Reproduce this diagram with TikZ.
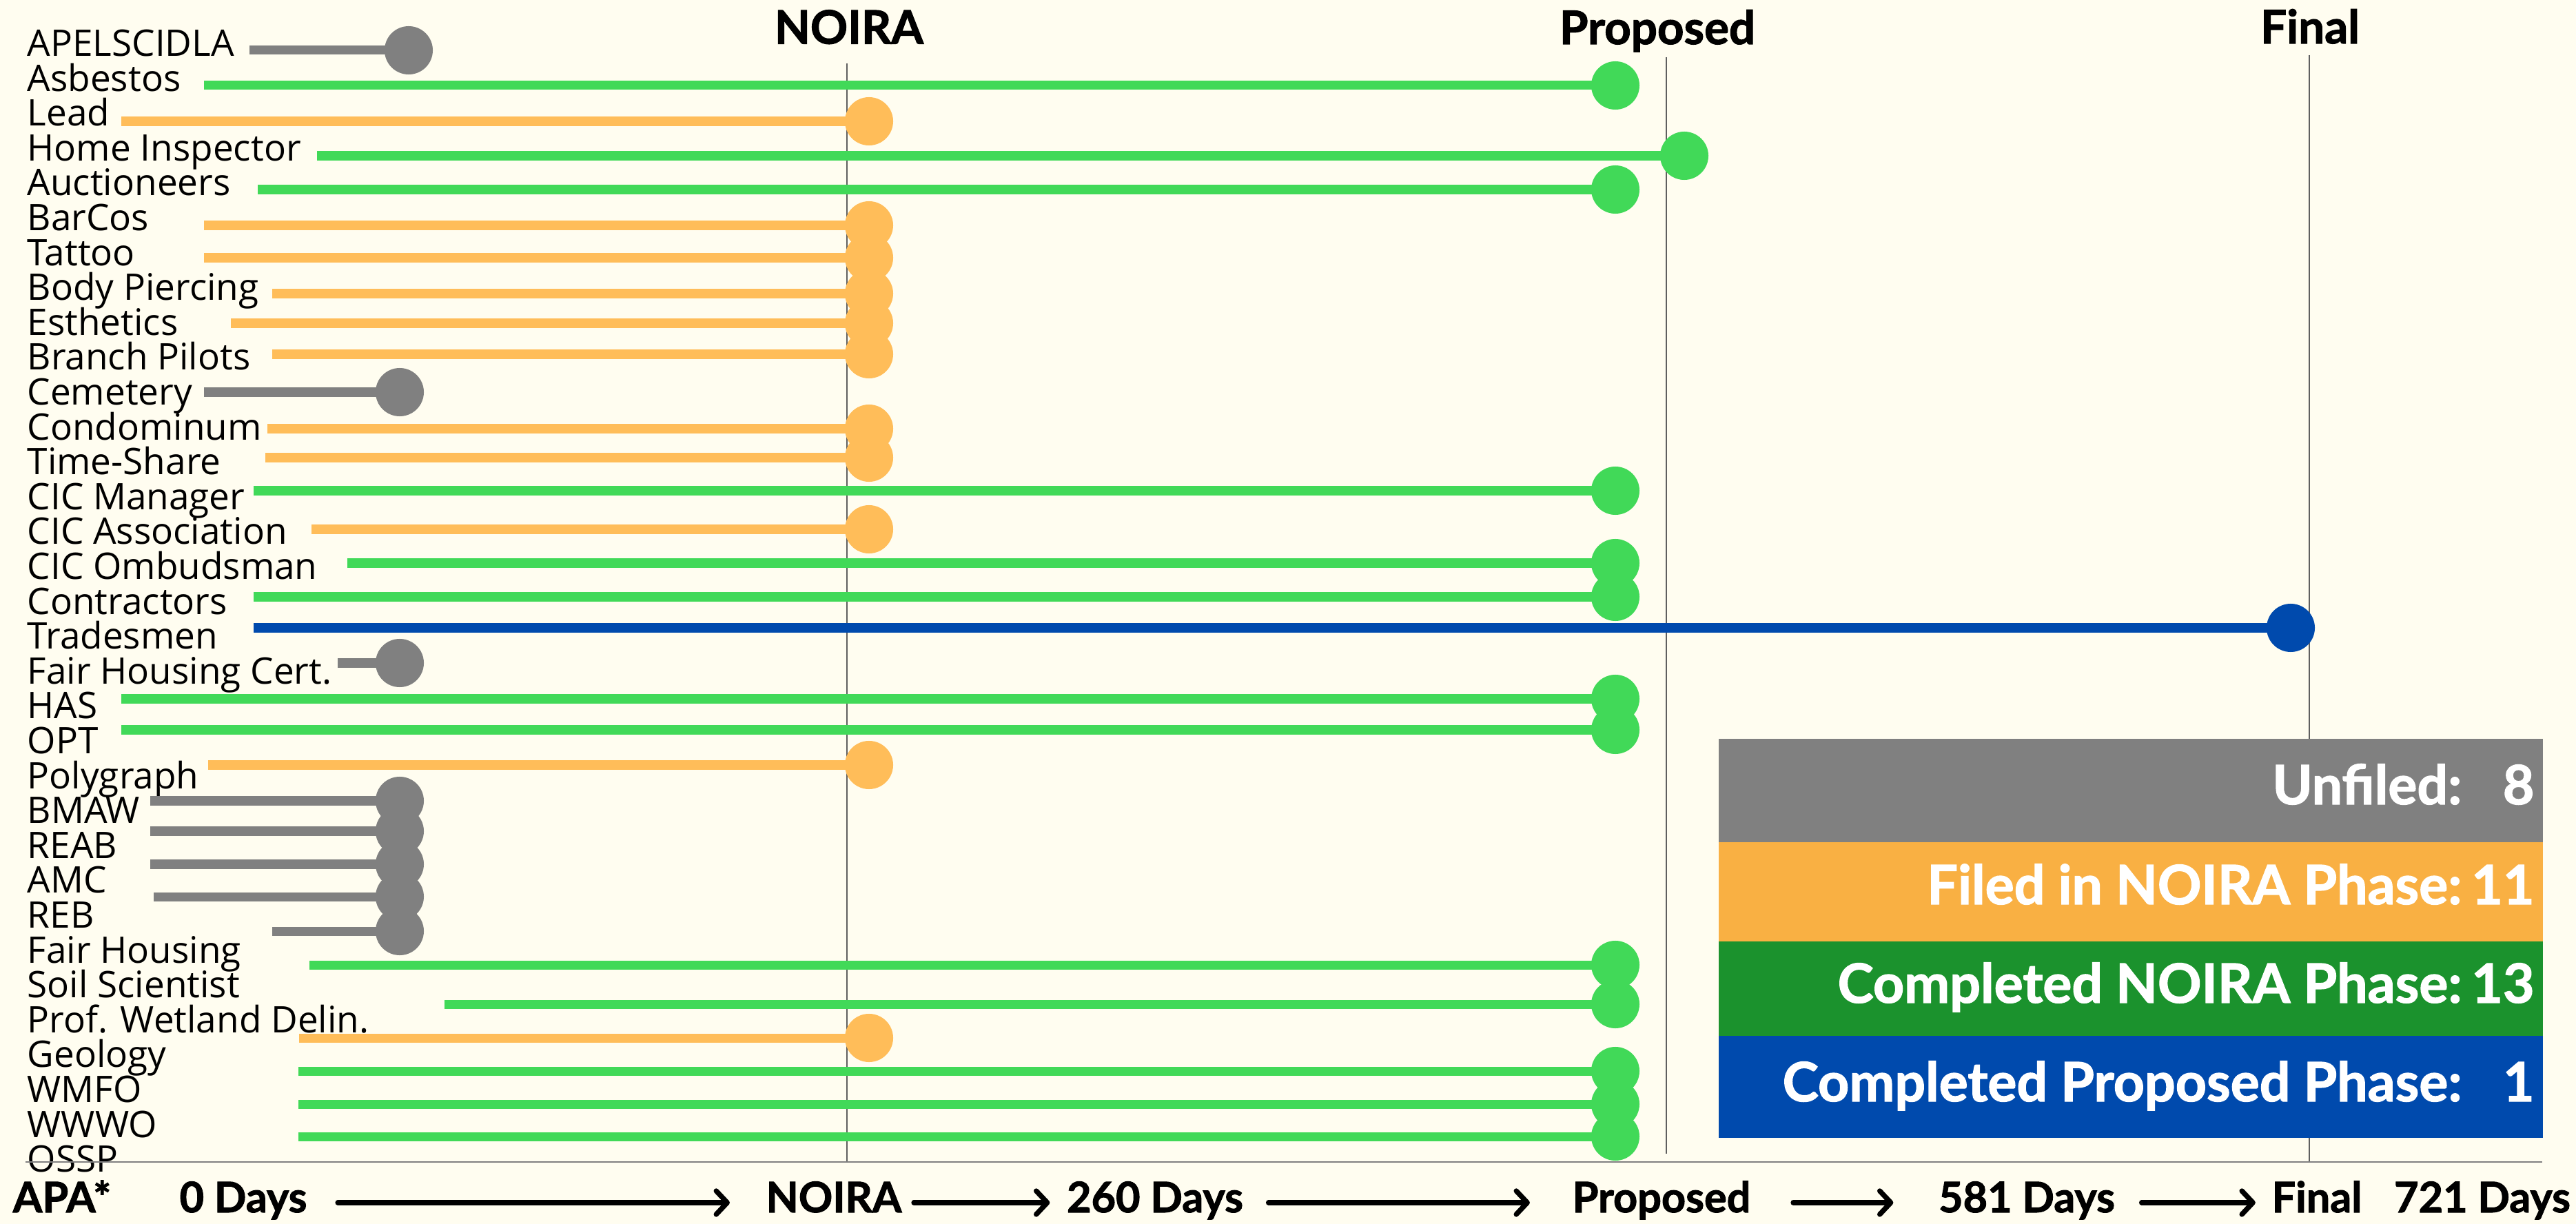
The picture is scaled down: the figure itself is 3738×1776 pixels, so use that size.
\documentclass[tikz,border=0pt]{standalone}
\usepackage{fontspec}
\usetikzlibrary{arrows.meta}
\setmainfont{Open Sans}
\newfontfamily\headfont{Lato}[BoldFeatures={FakeBold=1.6}]
\definecolor{bgcream}{RGB}{255,253,240}
\definecolor{unfiled}{RGB}{128,128,128}
\definecolor{noirabar}{RGB}{255,189,89}
\definecolor{propbar}{RGB}{65,217,88}
\definecolor{finalbar}{RGB}{0,74,173}
\definecolor{noirakey}{RGB}{249,176,67}
\definecolor{propkey}{RGB}{27,146,45}
\definecolor{guidegray}{RGB}{95,95,95}
\begin{document}
\begin{tikzpicture}[x=0.01cm, y=-0.01cm,
		lbl/.style={anchor=base west, inner sep=0pt, font=\fontsize{15.1}{18}\selectfont},
		head/.style={anchor=base, inner sep=0pt, font=\headfont\bfseries\fontsize{19.1}{23}\selectfont},
		foot/.style={anchor=base, inner sep=0pt, text height=0.44cm, text depth=0.16cm, font=\headfont\bfseries\fontsize{17.4}{21}\selectfont},
		keytext/.style={anchor=base east, inner sep=0pt, text=white, font=\headfont\bfseries\fontsize{22.4}{27}\selectfont},
		bar/.style={line width=3.7pt},
		dot/.style={circle, minimum size=0.7cm, inner sep=0pt},
		guide/.style={draw=guidegray, line width=0.55pt},
		timearrow/.style={line width=2.1pt, line cap=round, -{Straight Barb[length=1.6mm, width=3.4mm, round]}}]
				\fill[bgcream] (0,0) rectangle (3738,1776);
				\useasboundingbox (0,0) rectangle (3738,1776);
				% phase headings and guide lines
				\node[head] (hnoira) at (1232,63.5) {NOIRA};
				\node[head] (hprop) at (2405,64) {Proposed};
				\node[head] (hfinal) at (3352,63) {Final};
				\draw[guide] (1229,92) -- (1229,1686);
				\draw[guide] (2418,83) -- (2418,1674);
				\draw[guide] (3351,80) -- (3351,1686);
				% boards
				\node[lbl] (r1) at (39,81.5) {APELSCIDLA};
				\node[lbl] (r2) at (39,132.1) {Asbestos};
				\node[lbl] (r3) at (39,182.7) {Lead};
				\node[lbl] (r4) at (39,233.3) {Home Inspector};
				\node[lbl] (r5) at (39,283.9) {Auctioneers};
				\node[lbl] (r6) at (39,334.5) {BarCos};
				\node[lbl] (r7) at (39,385.1) {Tattoo};
				\node[lbl] (r8) at (39,435.7) {Body Piercing};
				\node[lbl] (r9) at (39,486.3) {Esthetics};
				\node[lbl] (r10) at (39,536.9) {Branch Pilots};
				\node[lbl] (r11) at (39,587.5) {Cemetery};
				\node[lbl] (r12) at (39,638.1) {Condominum};
				\node[lbl] (r13) at (39,688.7) {Time-Share};
				\node[lbl] (r14) at (39,739.3) {CIC Manager};
				\node[lbl] (r15) at (39,789.9) {CIC Association};
				\node[lbl] (r16) at (39,840.5) {CIC Ombudsman};
				\node[lbl] (r17) at (39,891.1) {Contractors};
				\node[lbl] (r18) at (39,941.7) {Tradesmen};
				\node[lbl] (r19) at (39,992.3) {Fair Housing Cert.};
				\node[lbl] (r20) at (39,1042.9) {HAS};
				\node[lbl] (r21) at (39,1093.5) {OPT};
				\node[lbl] (r22) at (39,1144.1) {Polygraph};
				\node[lbl] (r23) at (39,1194.7) {BMAW};
				\node[lbl] (r24) at (39,1245.3) {REAB};
				\node[lbl] (r25) at (39,1295.9) {AMC};
				\node[lbl] (r26) at (39,1346.5) {REB};
				\node[lbl] (r27) at (39,1397.1) {Fair Housing};
				\node[lbl] (r28) at (39,1447.7) {Soil Scientist};
				\node[lbl] (r29) at (39,1498.3) {Prof. Wetland Delin.};
				\node[lbl] (r30) at (39,1548.9) {Geology};
				\node[lbl] (r31) at (39,1599.5) {WMFO};
				\node[lbl] (r32) at (39,1650.1) {WWWO};
				\node[lbl] (r33) at (39,1700.7) {OSSP};
				% bars
				\coordinate (s1) at (362,73);   \node[dot, fill=unfiled] (d1) at (593,73) {};    \draw[bar, unfiled] (s1) -- (d1.center);
				\coordinate (s2) at (296,124);  \node[dot, fill=propbar] (d2) at (2344,124) {};  \draw[bar, propbar] (s2) -- (d2.center);
				\coordinate (s3) at (176,176);  \node[dot, fill=noirabar] (d3) at (1261,176) {}; \draw[bar, noirabar] (s3) -- (d3.center);
				\coordinate (s4) at (460,226);  \node[dot, fill=propbar] (d4) at (2444,226) {};  \draw[bar, propbar] (s4) -- (d4.center);
				\coordinate (s5) at (374,275);  \node[dot, fill=propbar] (d5) at (2344,275) {};  \draw[bar, propbar] (s5) -- (d5.center);
				\coordinate (s6) at (296,327);  \node[dot, fill=noirabar] (d6) at (1261,327) {}; \draw[bar, noirabar] (s6) -- (d6.center);
				\coordinate (s7) at (296,374);  \node[dot, fill=noirabar] (d7) at (1261,374) {}; \draw[bar, noirabar] (s7) -- (d7.center);
				\coordinate (s8) at (395,426);  \node[dot, fill=noirabar] (d8) at (1261,426) {}; \draw[bar, noirabar] (s8) -- (d8.center);
				\coordinate (s9) at (335,469);  \node[dot, fill=noirabar] (d9) at (1261,469) {}; \draw[bar, noirabar] (s9) -- (d9.center);
				\coordinate (s10) at (395,514); \node[dot, fill=noirabar] (d10) at (1261,514) {}; \draw[bar, noirabar] (s10) -- (d10.center);
				\coordinate (s11) at (296,569); \node[dot, fill=unfiled] (d11) at (580,569) {};   \draw[bar, unfiled] (s11) -- (d11.center);
				\coordinate (s12) at (388,622); \node[dot, fill=noirabar] (d12) at (1261,622) {}; \draw[bar, noirabar] (s12) -- (d12.center);
				\coordinate (s13) at (385,664); \node[dot, fill=noirabar] (d13) at (1261,664) {}; \draw[bar, noirabar] (s13) -- (d13.center);
				\coordinate (s14) at (368,712); \node[dot, fill=propbar] (d14) at (2344,712) {};  \draw[bar, propbar] (s14) -- (d14.center);
				\coordinate (s15) at (452,768); \node[dot, fill=noirabar] (d15) at (1261,768) {}; \draw[bar, noirabar] (s15) -- (d15.center);
				\coordinate (s16) at (504,817); \node[dot, fill=propbar] (d16) at (2344,817) {};  \draw[bar, propbar] (s16) -- (d16.center);
				\coordinate (s17) at (368,866); \node[dot, fill=propbar] (d17) at (2344,866) {};  \draw[bar, propbar] (s17) -- (d17.center);
				\coordinate (s18) at (368,911); \node[dot, fill=finalbar] (d18) at (3324,911) {}; \draw[bar, finalbar] (s18) -- (d18.center);
				\coordinate (s19) at (490,962); \node[dot, fill=unfiled] (d19) at (580,962) {};   \draw[bar, unfiled] (s19) -- (d19.center);
				\coordinate (s20) at (176,1014); \node[dot, fill=propbar] (d20) at (2344,1014) {}; \draw[bar, propbar] (s20) -- (d20.center);
				\coordinate (s21) at (176,1059); \node[dot, fill=propbar] (d21) at (2344,1059) {}; \draw[bar, propbar] (s21) -- (d21.center);
				\coordinate (s22) at (302,1110); \node[dot, fill=noirabar] (d22) at (1261,1110) {}; \draw[bar, noirabar] (s22) -- (d22.center);
				\coordinate (s23) at (218,1162); \node[dot, fill=unfiled] (d23) at (580,1162) {}; \draw[bar, unfiled] (s23) -- (d23.center);
				\coordinate (s24) at (218,1206); \node[dot, fill=unfiled] (d24) at (580,1206) {}; \draw[bar, unfiled] (s24) -- (d24.center);
				\coordinate (s25) at (218,1254); \node[dot, fill=unfiled] (d25) at (580,1254) {}; \draw[bar, unfiled] (s25) -- (d25.center);
				\coordinate (s26) at (223,1301); \node[dot, fill=unfiled] (d26) at (580,1301) {}; \draw[bar, unfiled] (s26) -- (d26.center);
				\coordinate (s27) at (395,1351); \node[dot, fill=unfiled] (d27) at (580,1351) {}; \draw[bar, unfiled] (s27) -- (d27.center);
				\coordinate (s28) at (449,1400); \node[dot, fill=propbar] (d28) at (2344,1400) {}; \draw[bar, propbar] (s28) -- (d28.center);
				\coordinate (s29) at (645,1457); \node[dot, fill=propbar] (d29) at (2344,1457) {}; \draw[bar, propbar] (s29) -- (d29.center);
				\coordinate (s30) at (434,1506); \node[dot, fill=noirabar] (d30) at (1261,1506) {}; \draw[bar, noirabar] (s30) -- (d30.center);
				\coordinate (s31) at (433,1554); \node[dot, fill=propbar] (d31) at (2344,1554) {}; \draw[bar, propbar] (s31) -- (d31.center);
				\coordinate (s32) at (433,1602); \node[dot, fill=propbar] (d32) at (2344,1602) {}; \draw[bar, propbar] (s32) -- (d32.center);
				\coordinate (s33) at (433,1649); \node[dot, fill=propbar] (d33) at (2344,1649) {}; \draw[bar, propbar] (s33) -- (d33.center);
				% base line
				\draw[draw=unfiled, line width=0.8pt] (37,1686) -- (3689,1686);
				% key
				\fill[unfiled] (2494,1072) rectangle (3690,1222);
				\fill[noirakey] (2494,1222) rectangle (3690,1366);
				\fill[propkey] (2494,1366) rectangle (3690,1503);
				\fill[finalbar] (2494,1503) rectangle (3690,1651);
				\node[keytext] (kunf) at (3678,1167) {Unfiled:\makebox[1.05cm][r]{8}};
				\node[keytext] (knoira) at (3678,1312) {Filed in NOIRA Phase:\makebox[1.05cm][r]{11}};
				\node[keytext] (kprop) at (3678,1455) {Completed NOIRA Phase:\makebox[1.05cm][r]{13}};
				\node[keytext] (kfinal) at (3678,1598) {Completed Proposed Phase:\makebox[1.05cm][r]{1}};
				% time line
				\node[foot] (apa) at (90,1759) {APA*};
				\node[foot] (t0) at (353,1759) {0 Days};
				\node[foot] (tnoira) at (1210,1759) {NOIRA};
				\node[foot] (t260) at (1676,1759) {260 Days};
				\node[foot] (tprop) at (2411,1759) {Proposed};
				\node[foot] (t581) at (2941,1759) {581 Days};
				\node[foot] (tfinal) at (3362,1759) {Final};
				\node[foot] (t721) at (3602,1759) {721 Days};
				\draw[timearrow, shorten <=0.44cm, shorten >=0.52cm] (t0.east) -- (tnoira.west);
				\draw[timearrow, shorten <=0.17cm, shorten >=0.24cm] (tnoira.east) -- (t260.west);
				\draw[timearrow, shorten <=0.36cm, shorten >=0.61cm] (t260.east) -- (tprop.west);
				\draw[timearrow, shorten <=0.61cm, shorten >=0.65cm] (tprop.east) -- (t581.west);
				\draw[timearrow, shorten <=0.38cm, shorten >=0.23cm] (t581.east) -- (tfinal.west);
			\end{tikzpicture}
\end{document}
